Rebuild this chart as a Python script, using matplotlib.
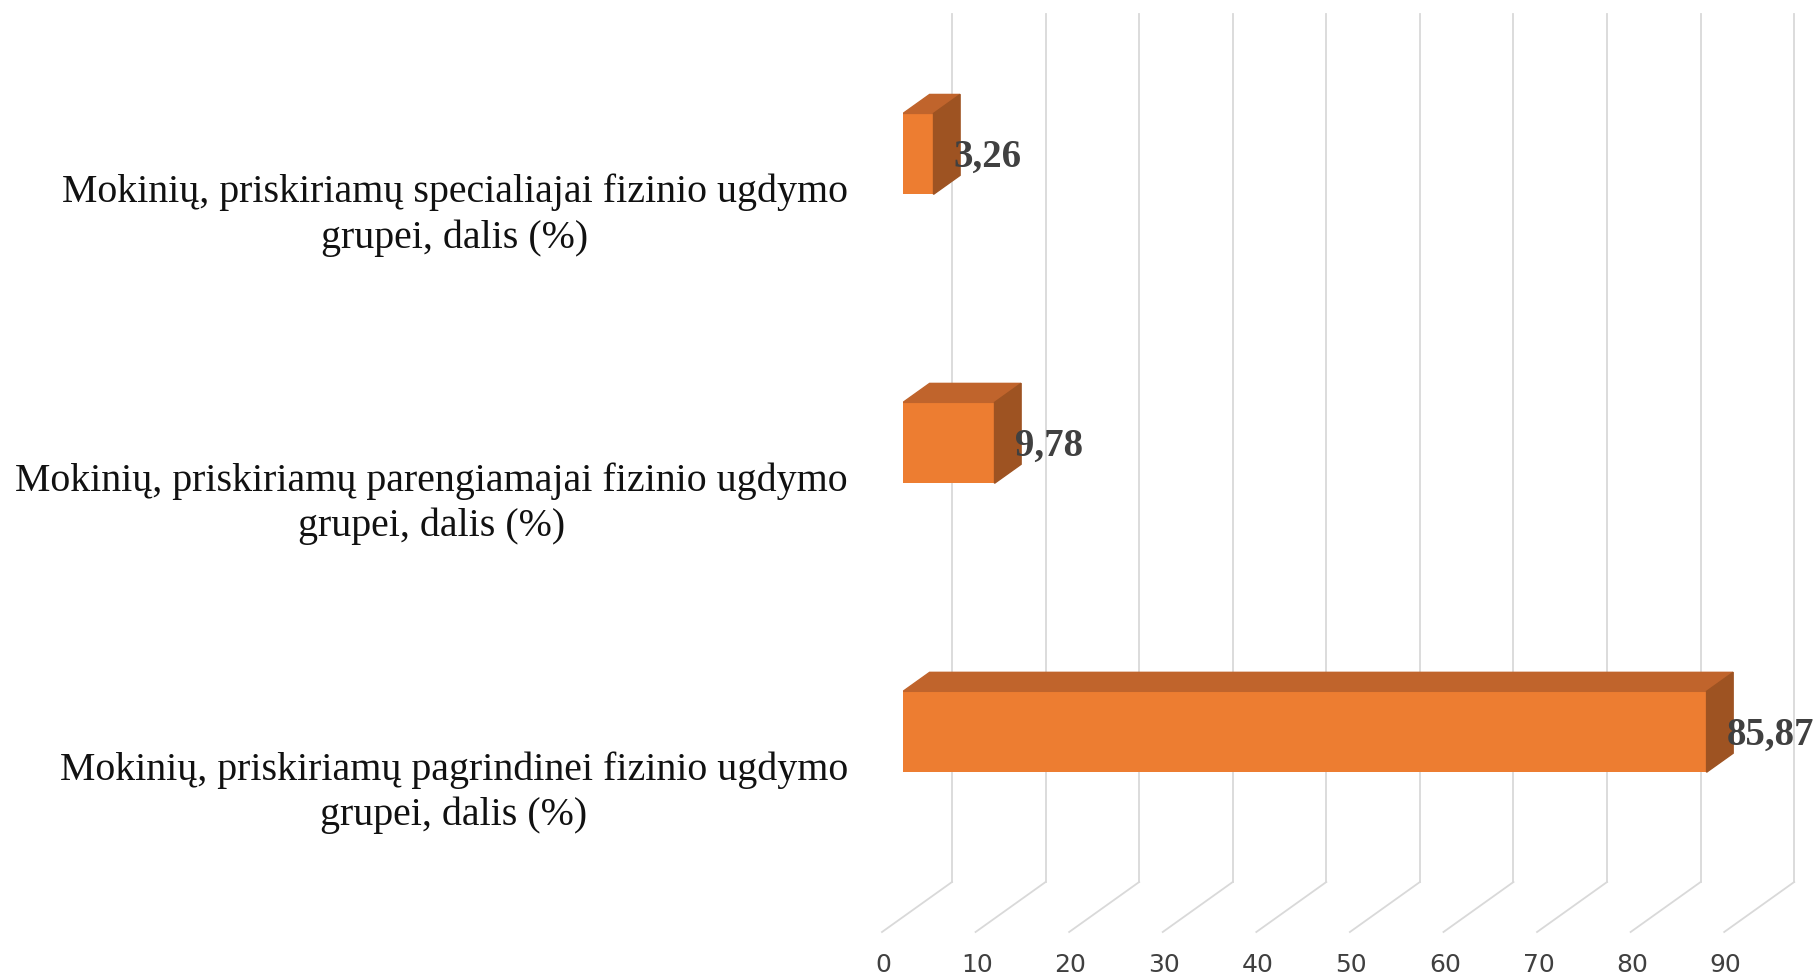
"""Excel-style 3D horizontal bar chart: pupils by physical education group."""
import numpy as np
import matplotlib
matplotlib.use("Agg")
import matplotlib.pyplot as plt
from matplotlib.patches import Polygon

categories = [
    "Mokinių, priskiriamų pagrindinei fizinio ugdymo\ngrupei, dalis (%)",
    "Mokinių, priskiriamų parengiamajai fizinio ugdymo\ngrupei, dalis (%)",
    "Mokinių, priskiriamų specialiajai fizinio ugdymo\ngrupei, dalis (%)",
]
values = [85.87, 9.78, 3.26]
value_labels = ["85,87", "9,78", "3,26"]
ticks = list(range(0, 100, 10))

FRONT, TOP, SIDE = "#ED7D31", "#C0642C", "#9E5322"
GRID = "#D9D9D9"
SERIF = ["Liberation Serif", "DejaVu Serif"]

W, H, DPI = 18.2, 9.8, 100
XMIN, XMAX = 0, 95
YMIN, YMAX = -0.641, 2.363
# floor depth in pixels (back goes right/up); bars sit 30% into it
DEPTH_PX = np.array([70.0, 50.0])
BAR_POS, BAR_DEPTH = 0.30, 0.38
BAR_H = 0.28

fig = plt.figure(figsize=(W, H), dpi=DPI)
ax = fig.add_axes([903 / 1820, 63 / 980, 889 / 1820, 868 / 980])
ax.set_xlim(XMIN, XMAX); ax.set_ylim(YMIN, YMAX)
ax.axis("off")

# pixel -> data conversions for the depth offsets
px_x = 889 / (XMAX - XMIN)
px_y = 868 / (YMAX - YMIN)
def depth(frac):
    return DEPTH_PX[0] * frac / px_x, DEPTH_PX[1] * frac / px_y

bx, by = depth(1 - BAR_POS)      # back wall
fx, fy = depth(-BAR_POS)         # front floor edge
dx, dy = depth(BAR_DEPTH)        # bar depth

for t in ticks:
    ax.plot([t + bx, t + bx], [YMIN + by, YMAX + by], color=GRID, lw=1.3, clip_on=False, zorder=1)
    ax.plot([t + bx, t + fx], [YMIN + by, YMIN + fy], color=GRID, lw=1.3, clip_on=False, zorder=1)
    ax.annotate(str(t), (t + fx, YMIN + fy), xytext=(1, -24), textcoords="offset points",
                ha="center", va="center", fontsize=18, color="#404040",
                family=["DejaVu Sans"], annotation_clip=False)

ypos = np.arange(len(values))
ax.barh(ypos, values, height=BAR_H, color=FRONT, zorder=3)
for y, v, lab, cat in zip(ypos, values, value_labels, categories):
    top = y + BAR_H / 2; bot = y - BAR_H / 2
    ax.add_patch(Polygon([(0, top), (v, top), (v + dx, top + dy), (dx, top + dy)],
                         closed=True, color=TOP, zorder=3))
    ax.add_patch(Polygon([(v, bot), (v + dx, bot + dy), (v + dx, top + dy), (v, top)],
                         closed=True, color=SIDE, zorder=3))
    ax.annotate(lab, (v, y), xytext=(14.5, -2.5), textcoords="offset points",
                ha="left", va="center", fontsize=28, fontweight="bold",
                color="#404040", family=SERIF, zorder=5, annotation_clip=False)
    ax.annotate(cat, (0, y), xytext=(-39.6, -44), textcoords="offset points",
                ha="right", va="center", multialignment="center", linespacing=1.28,
                fontsize=28.7, color="#111111", family=SERIF, annotation_clip=False)

fig.savefig("out.png", dpi=DPI)
